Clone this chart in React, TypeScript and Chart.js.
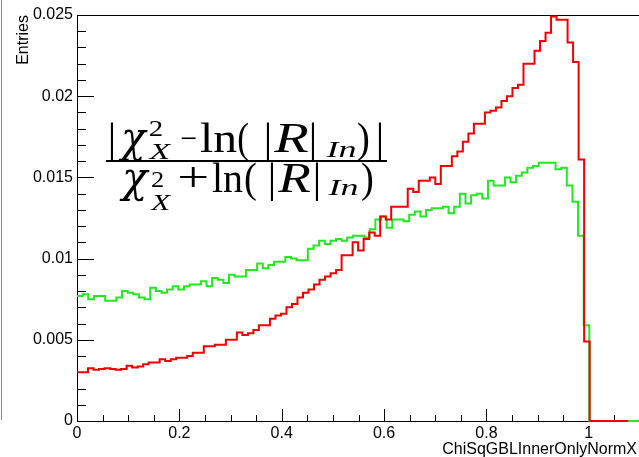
import { useEffect, useRef } from "react";
import { Chart, registerables } from "chart.js";

Chart.register(...registerables);

// ---- data ----
const RED_BIN_WIDTH = 0.01077;
const GREEN_BIN_WIDTH = 0.011;

const RED_VALUES = [
  0.0030, 0.0030, 0.00325, 0.00315, 0.0032, 0.00325, 0.0032, 0.00315, 0.0032, 0.0034,
  0.0033, 0.00335, 0.0035, 0.0036, 0.0036, 0.0038, 0.0037, 0.0038, 0.0039, 0.0039,
  0.0040, 0.0042, 0.0042, 0.0046, 0.0046, 0.0047, 0.0047, 0.0050, 0.0050, 0.00545,
  0.0053, 0.0054, 0.0056, 0.0059, 0.0059, 0.0063, 0.0065, 0.0066, 0.0070, 0.0072,
  0.0076, 0.0079, 0.0081, 0.0084, 0.0087, 0.0089, 0.0091, 0.0093, 0.0102, 0.0102,
  0.0110, 0.0105, 0.0112, 0.0116, 0.0114, 0.0126, 0.0124, 0.0132, 0.0132, 0.0132,
  0.0143, 0.0141, 0.0148, 0.0148, 0.0150, 0.0146, 0.0157, 0.0157, 0.0163, 0.0166,
  0.0172, 0.0177, 0.0183, 0.0183, 0.0190, 0.0191, 0.0193, 0.0197, 0.0200, 0.0205,
  0.0207, 0.0220, 0.0220, 0.0228, 0.0234, 0.0239, 0.0249, 0.0247, 0.0247, 0.0233,
  0.0221, 0.0161, 0.0049, 0, 0, 0, 0, 0, 0, 0,
];

const GREEN_VALUES = [
  0.0077, 0.0078, 0.0075, 0.0077, 0.0077, 0.0074, 0.0074, 0.0076, 0.0080, 0.0079,
  0.0078, 0.0076, 0.0075, 0.0082, 0.0080, 0.0079, 0.0081, 0.0083, 0.0081, 0.0083,
  0.0084, 0.0084, 0.0086, 0.0083, 0.0088, 0.0087, 0.0085, 0.0090, 0.0089, 0.0089,
  0.0093, 0.0093, 0.0097, 0.0094, 0.0096, 0.0098, 0.0098, 0.0101, 0.0100, 0.0099,
  0.0099, 0.0106, 0.0108, 0.0111, 0.0109, 0.0111, 0.0112, 0.0111, 0.0113, 0.0114,
  0.0114, 0.0113, 0.0118, 0.0124, 0.0126, 0.0119, 0.0124, 0.0124, 0.0123, 0.0127,
  0.0129, 0.0126, 0.0130, 0.0131, 0.0131, 0.0132, 0.0128, 0.0132, 0.0140, 0.0134,
  0.0139, 0.0140, 0.0137, 0.0148, 0.0145, 0.0145, 0.0150, 0.0147, 0.0151, 0.0153,
  0.0156, 0.0157, 0.0159, 0.0159, 0.0159, 0.0155, 0.0156, 0.0145, 0.0135, 0.0114,
  0.0059, 0, 0, 0, 0, 0, 0, 0, 0, 0,
];

const X_TICKS = [0, 0.2, 0.4, 0.6, 0.8, 1];
const Y_TICKS = [0, 0.005, 0.01, 0.015, 0.02, 0.025];
const X_MIN = 0;
const X_MAX = 1.1;
const Y_MIN = 0;
const Y_MAX = 0.025;
const X_TITLE = "ChiSqGBLInnerOnlyNormX";
const Y_TITLE = "Entries";

function toSteps(values: number[], width: number) {
  const pts = values.map((v, i) => ({ x: X_MIN + i * width, y: v }));
  pts.push({ x: X_MIN + values.length * width, y: values[values.length - 1] });
  return pts;
}

function fmt(v: number) {
  return String(Number(v.toFixed(4)));
}

const SANS = '"Liberation Sans", Arial, Helvetica, sans-serif';
const SERIF = '"Liberation Serif", "Times New Roman", serif';
const GREEK = '"DejaVu Serif", "Liberation Serif", serif';

const framePlugin = {
  id: "rootFrame",
  beforeDatasetsDraw(chart: any) {
    const { ctx, chartArea: a, scales } = chart;
    const x = scales.x;
    const y = scales.y;
    ctx.save();
    ctx.strokeStyle = "#000";
    ctx.lineWidth = 1;
    ctx.beginPath();
    ctx.rect(Math.round(a.left) + 0.5, Math.round(a.top) + 0.5, a.right - a.left, a.bottom - a.top);
    ctx.stroke();
    ctx.beginPath();
    const nX = Math.round((X_MAX - X_MIN) / 0.05);
    for (let k = 0; k <= nX; k++) {
      const v = X_MIN + k * 0.05;
      const px = Math.round(x.getPixelForValue(v)) + 0.5;
      const len = k % 4 === 0 ? 12 : 6;
      ctx.moveTo(px, a.bottom);
      ctx.lineTo(px, a.bottom - len);
    }
    const nY = Math.round((Y_MAX - Y_MIN) / 0.001);
    for (let k = 0; k <= nY; k++) {
      const v = Y_MIN + k * 0.001;
      const py = Math.round(y.getPixelForValue(v)) + 0.5;
      const len = k % 5 === 0 ? 17 : 9;
      ctx.moveTo(a.left, py);
      ctx.lineTo(a.left + len, py);
    }
    ctx.stroke();
    ctx.restore();
  },
  afterDraw(chart: any) {
    const { ctx, chartArea: a } = chart;
    ctx.save();
    // neighbouring pad edge
    ctx.strokeStyle = "#8a8a8a";
    ctx.lineWidth = 1;
    ctx.beginPath();
    ctx.moveTo(1.5, 0);
    ctx.lineTo(1.5, 420);
    ctx.stroke();

    ctx.fillStyle = "#000";
    ctx.font = `16px ${SANS}`;
    // x title
    ctx.textAlign = "right";
    ctx.textBaseline = "alphabetic";
    ctx.fillText(X_TITLE, 637, 454);
    // y title
    ctx.save();
    ctx.translate(28, a.top);
    ctx.rotate(-Math.PI / 2);
    ctx.textAlign = "right";
    ctx.textBaseline = "alphabetic";
    ctx.fillText(Y_TITLE, 0, 0);
    ctx.restore();

    // formula: each glyph group fitted between its ink edges
    const fit = (t: string, x1: number, x2: number, base: number, size: number, italic: boolean, family = SERIF) => {
      ctx.save();
      ctx.font = `${italic ? "italic " : ""}${size}px ${family}`;
      ctx.textAlign = "left";
      ctx.textBaseline = "alphabetic";
      const m = ctx.measureText(t);
      const L = m.actualBoundingBoxLeft || 0;
      const R = m.actualBoundingBoxRight || m.width;
      const ink = Math.max(1, L + R);
      const s = (x2 - x1) / ink;
      ctx.translate(x1 + L * s, base);
      ctx.scale(s, 1);
      ctx.fillText(t, 0, 0);
      ctx.restore();
    };
    const bar = (cx: number, base: number, size: number) => {
      ctx.save();
      ctx.font = `${size}px ${SERIF}`;
      ctx.textAlign = "center";
      ctx.textBaseline = "alphabetic";
      ctx.fillText("|", cx, base);
      ctx.restore();
    };
    const B1 = 152;
    const B2 = 192;
    const M = 42;
    const S = 24;
    // numerator
    bar(112, B1, M);
    fit("\u03C7", 118, 148, B1, M, true, GREEK);
    fit("2", 150, 162, 136, S, false);
    fit("X", 148, 172, 159, S, true);
    fit("\u2212", 181, 196, B1 - 3, 32, false);
    fit("ln", 200, 237, B1, M, false);
    fit("(", 238, 248, B1, M, false);
    bar(268, B1, M);
    fit("R", 273, 308, B1, M, true);
    bar(313, B1, M);
    fit("In", 325, 355, 157, S, true);
    fit(")", 358, 369, B1, M, false);
    bar(380, B1, M);
    // fraction bar
    ctx.fillRect(106, 160, 281, 2);
    // denominator
    fit("\u03C7", 119, 150, B2, M, true, GREEK);
    fit("2", 152, 163, 187, S, false);
    fit("X", 150, 172, 210, S, true);
    fit("+", 180, 207, B2 - 1, M, false);
    fit("ln", 212, 243, B2, M, false);
    fit("(", 245, 256, B2, M, false);
    bar(272, B2, M);
    fit("R", 277, 310, B2, M, true);
    bar(317, B2, M);
    fit("In", 327, 357, 195, S, true);
    fit(")", 362, 373, B2, M, false);
    ctx.restore();
  },
};

export default function App() {
  const ref = useRef<HTMLCanvasElement | null>(null);
  useEffect(() => {
    if (!ref.current) return;
    const chart = new Chart(ref.current, {
      type: "line",
      data: {
        datasets: [
          {
            data: toSteps(RED_VALUES, RED_BIN_WIDTH),
            borderColor: "#f00000",
            borderWidth: 2,
            stepped: true,
            pointRadius: 0,
            fill: false,
            clip: false as any,
          },
          {
            data: toSteps(GREEN_VALUES, GREEN_BIN_WIDTH),
            borderColor: "#22e822",
            borderWidth: 2,
            stepped: true,
            pointRadius: 0,
            fill: false,
            clip: false as any,
          },
        ],
      },
      options: {
        animation: false,
        responsive: true,
        maintainAspectRatio: false,
        layout: { padding: { left: 0, right: 20, top: 15, bottom: 0 } },
        plugins: { legend: { display: false }, tooltip: { enabled: false } },
        events: [],
        scales: {
          x: {
            type: "linear",
            min: X_MIN,
            max: X_MAX,
            grid: { display: false, drawTicks: false },
            border: { display: false },
            afterBuildTicks: (s: any) => {
              s.ticks = X_TICKS.map((v) => ({ value: v }));
            },
            afterFit: (s: any) => {
              s.height = 36;
            },
            ticks: {
              padding: 3,
              maxRotation: 0,
              autoSkip: false,
              color: "#000",
              font: { family: SANS, size: 16 },
              callback: (v: any) => fmt(Number(v)),
            },
          },
          y: {
            type: "linear",
            min: Y_MIN,
            max: Y_MAX,
            grid: { display: false, drawTicks: false },
            border: { display: false },
            afterBuildTicks: (s: any) => {
              s.ticks = Y_TICKS.map((v) => ({ value: v }));
            },
            afterFit: (s: any) => {
              s.width = 77;
            },
            ticks: {
              padding: 4,
              autoSkip: false,
              color: "#000",
              font: { family: SANS, size: 16 },
              callback: (v: any) => fmt(Number(v)),
            },
          },
        },
      },
      plugins: [framePlugin],
    });
    return () => chart.destroy();
  }, []);

  return (
    <div
      style={{
        position: "fixed",
        left: 0,
        top: 0,
        width: 639,
        height: 457,
        overflow: "hidden",
        background: "#fff",
      }}
    >
      <div style={{ position: "relative", width: 660, height: 457 }}>
        <canvas ref={ref} />
      </div>
    </div>
  );
}
